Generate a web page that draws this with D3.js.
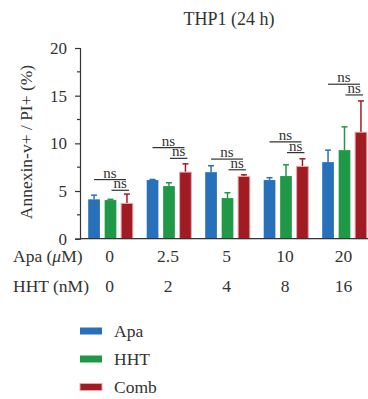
<!DOCTYPE html>
<html>
<head>
<meta charset="utf-8">
<script src="https://cdn.jsdelivr.net/npm/d3@7"></script>
<style>
  body { margin: 0; background: #fff; }
  svg text { fill: #333; }
</style>
</head>
<body>
<div id="chart"></div>
<script>
const apaDose = ["0", "2.5", "5", "10", "20"]
const hhtDose = ["0", "2", "4", "8", "16"]
const series = ["Apa", "HHT", "Comb"]
const apaValues = [4.13, 6.15, 6.98, 6.15, 8.03]
const apaErrors = [0.44, 0.06, 0.67, 0.25, 1.26]
const hhtValues = [4.05, 5.52, 4.26, 6.57, 9.29]
const hhtErrors = [0.08, 0.35, 0.56, 1.18, 2.44]
const combValues = [3.7, 6.98, 6.53, 7.58, 11.17]
const combErrors = [0.98, 0.87, 0.17, 0.8, 3.28]
const sigLevels = [6.2, 9.55, 8.35, 10.15, 16.2]
const yTicks = [0, 5, 10, 15, 20]
const yMinorTicks = [2.5, 7.5, 12.5, 17.5]

const colors = {Apa: "#2870b9", HHT: "#1f9847", Comb: "#a11b23"}
const serif = "'Liberation Serif', serif"
const fs = "17.5px"

const width = 368, height = 399

const svg = d3.select("#chart").append("svg")
    .attr("width", width)
    .attr("height", height)
    .style("font-family", serif)

// scales
const y = d3.scaleLinear().domain([0, 20]).range([238.7, 48])
const x0 = d3.scaleBand().domain(apaDose).range([81.25, 373.75])
const x1 = d3.scaleBand().domain(series).range([-22.3, 22.3]).paddingInner(0.29)

// rows of data per group
const rows = apaDose.map((d, i) => ({
    dose: d,
    bars: [
        {s: "Apa", v: apaValues[i], e: apaErrors[i]},
        {s: "HHT", v: hhtValues[i], e: hhtErrors[i]},
        {s: "Comb", v: combValues[i], e: combErrors[i]}
    ],
    sig: sigLevels[i]
}))

const center = d => x0(d) + x0.bandwidth() / 2

// title
svg.append("text")
    .attr("x", 229).attr("y", 25)
    .attr("text-anchor", "middle")
    .style("font-size", "18px")
    .text("THP1 (24 h)")

// y axis
const yAxis = svg.append("g")
    .attr("transform", "translate(80,0)")
    .call(d3.axisLeft(y).tickValues(yTicks).tickSize(5).tickPadding(8).tickFormat(d3.format("d")))
yAxis.attr("font-family", null)
yAxis.selectAll("text").style("font-size", "17px").attr("fill", "#333")
yAxis.select(".domain").attr("stroke", "#333").attr("stroke-width", 1.2)
yAxis.selectAll(".tick line").attr("stroke", "#333").attr("stroke-width", 1.2)

svg.append("g").selectAll("line")
    .data(yMinorTicks)
    .join("line")
    .attr("x1", 77).attr("x2", 80)
    .attr("y1", d => y(d)).attr("y2", d => y(d))
    .attr("stroke", "#333").attr("stroke-width", 1.2)

svg.append("text")
    .attr("transform", "translate(32,142) rotate(-90)")
    .attr("text-anchor", "middle")
    .style("font-size", fs)
    .text("Annexin-v+ / PI+ (%)")

// bars
const groups = svg.append("g").selectAll("g")
    .data(rows)
    .join("g")
    .attr("transform", d => `translate(${center(d.dose)},0)`)

groups.selectAll("line.err")
    .data(d => d.bars)
    .join("line")
    .attr("class", "err")
    .attr("x1", d => x1(d.s) + x1.bandwidth() / 2)
    .attr("x2", d => x1(d.s) + x1.bandwidth() / 2)
    .attr("y1", d => y(d.v))
    .attr("y2", d => y(d.v + d.e))
    .attr("stroke", d => colors[d.s])
    .attr("stroke-width", 1.5)

groups.selectAll("line.cap")
    .data(d => d.bars)
    .join("line")
    .attr("class", "cap")
    .attr("x1", d => x1(d.s) + x1.bandwidth() / 2 - 3)
    .attr("x2", d => x1(d.s) + x1.bandwidth() / 2 + 3)
    .attr("y1", d => y(d.v + d.e))
    .attr("y2", d => y(d.v + d.e))
    .attr("stroke", d => colors[d.s])
    .attr("stroke-width", 1.5)

groups.selectAll("rect")
    .data(d => d.bars)
    .join("rect")
    .attr("x", d => x1(d.s))
    .attr("y", d => y(d.v))
    .attr("width", x1.bandwidth())
    .attr("height", d => y(0) - y(d.v))
    .attr("fill", d => colors[d.s])
    .attr("stroke", d => d.s === "Comb" ? "#e3a9ad" : "none")
    .attr("stroke-width", 1)

// significance marks
const bc = s => x1(s) + x1.bandwidth() / 2
const sig = groups.append("g")
sig.append("line")
    .attr("x1", bc("Apa")).attr("x2", bc("Comb") - 1)
    .attr("y1", d => y(d.sig)).attr("y2", d => y(d.sig))
    .attr("stroke", "#333").attr("stroke-width", 1.2)
sig.append("text")
    .attr("x", (bc("Apa") + bc("Comb") - 1) / 2)
    .attr("y", d => y(d.sig) - 2)
    .attr("text-anchor", "middle")
    .style("font-size", "15px")
    .text("ns")
sig.append("line")
    .attr("x1", bc("HHT") + 1).attr("x2", bc("Comb") + 2)
    .attr("y1", d => y(d.sig) + 10.7).attr("y2", d => y(d.sig) + 10.7)
    .attr("stroke", "#333").attr("stroke-width", 1.2)
sig.append("text")
    .attr("x", (bc("HHT") + bc("Comb") + 3) / 2)
    .attr("y", d => y(d.sig) + 8.7)
    .attr("text-anchor", "middle")
    .style("font-size", "15px")
    .text("ns")

// x baseline
svg.append("line")
    .attr("x1", 80).attr("x2", width)
    .attr("y1", y(0)).attr("y2", y(0))
    .attr("stroke", "#333").attr("stroke-width", 1.2)

// dose rows
const doseRow = (labels, name, yy) => {
    svg.append("text")
        .attr("x", 13).attr("y", yy)
        .style("font-size", fs)
        .html(name)
    svg.append("g").selectAll("text")
        .data(labels)
        .join("text")
        .attr("x", (d, i) => center(apaDose[i]) - 1)
        .attr("y", yy)
        .attr("text-anchor", "middle")
        .style("font-size", fs)
        .text(d => d)
}
doseRow(apaDose, 'Apa (<tspan font-style="italic">μ</tspan>M)', 261.5)
doseRow(hhtDose, "HHT (nM)", 292)

// legend
const legend = svg.append("g").selectAll("g")
    .data(series)
    .join("g")
    .attr("transform", (d, i) => `translate(80,${331 + i * 28})`)
legend.append("rect")
    .attr("x", 0).attr("y", -3.5)
    .attr("width", 22).attr("height", 7)
    .attr("fill", d => colors[d])
    .attr("stroke", d => d === "Comb" ? "#e3a9ad" : "none")
legend.append("text")
    .attr("x", 34).attr("y", 5.5)
    .style("font-size", fs)
    .text(d => d)
</script>
</body>
</html>
